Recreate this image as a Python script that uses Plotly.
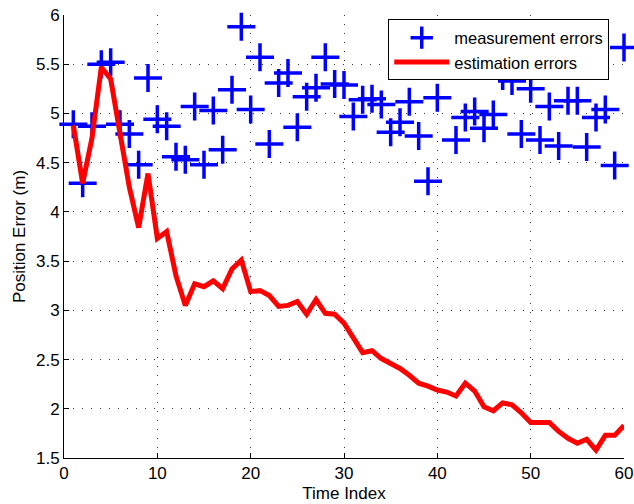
import plotly.graph_objects as go

# time index 1..60
time_index = list(range(1, 61))

# measurement errors (blue crosses), read off the picture
# (index 41 sits behind the legend box, value guessed)
meas_err = [4.89, 4.29, 4.87, 5.50, 5.52, 4.89, 4.79, 4.48, 5.36, 4.94,
            4.87, 4.56, 4.53, 5.07, 4.48, 5.03, 4.63, 5.24, 5.88, 5.04,
            5.57, 4.69, 5.31, 5.41, 4.86, 5.17, 5.26, 5.57, 5.30, 5.29,
            4.97, 5.14, 5.15, 5.09, 4.81, 4.91, 5.12, 4.77, 4.31, 5.16,
            5.65, 4.73, 4.96, 5.02, 4.85, 4.99, 5.38, 5.33, 4.79, 5.25,
            4.73, 5.07, 4.67, 5.13, 5.13, 4.66, 4.96, 5.04, 4.47, 5.67]

# estimation errors (red line)
est_err = [4.88, 4.29, 4.75, 5.47, 5.35, 4.76, 4.25, 3.84, 4.39, 3.73,
           3.80, 3.35, 3.05, 3.27, 3.24, 3.30, 3.22, 3.42, 3.51, 3.19,
           3.20, 3.15, 3.04, 3.05, 3.09, 2.96, 3.11, 2.97, 2.96, 2.87,
           2.73, 2.57, 2.59, 2.51, 2.46, 2.41, 2.34, 2.26, 2.23, 2.19,
           2.17, 2.13, 2.26, 2.18, 2.02, 1.98, 2.06, 2.04, 1.96, 1.86,
           1.86, 1.86, 1.77, 1.70, 1.65, 1.69, 1.58, 1.73, 1.73, 1.83]

fig = go.Figure()

fig.add_trace(go.Scatter(
    x=time_index, y=meas_err, mode='markers', name='measurement errors',
    marker=dict(symbol='cross-thin', size=20, color='#0000ff',
                line=dict(width=3.5, color='#0000ff')),
    cliponaxis=False))

fig.add_trace(go.Scatter(
    x=time_index, y=est_err, mode='lines', name='estimation errors',
    line=dict(color='#ff0000', width=5)))

# matlab-like axes: left/bottom lines, inward ticks, sparse dotted grid
axis_style = dict(showline=True, linecolor='black', linewidth=1,
                  ticks='inside', ticklen=5, tickcolor='black',
                  showgrid=True, gridcolor='#333333', griddash='1px,8px', gridwidth=1,
                  zeroline=False, mirror=False, ticklabeloverflow='allow',
                  automargin=False,
                  tickfont=dict(size=17, color='black'))

fig.update_xaxes(range=[0, 60], dtick=10, tick0=0,
                 title=dict(text='Time Index', font=dict(size=17, color='black'), standoff=4),
                 **axis_style)
fig.update_yaxes(range=[1.5, 6], dtick=0.5, tick0=1.5,
                 title=dict(text='Position Error (m)', font=dict(size=17, color='black'), standoff=6),
                 **axis_style)

fig.update_layout(
    width=634, height=504,
    margin=dict(l=64, r=10, t=15, b=46, autoexpand=False),
    plot_bgcolor='white', paper_bgcolor='white',
    font=dict(family='Liberation Sans, Arial, sans-serif', color='black'),
    showlegend=True,
    legend=dict(x=0.579, y=0.99, xanchor='left', yanchor='top',
                bgcolor='white', bordercolor='black', borderwidth=1,
                font=dict(size=16.5, color='black'), itemwidth=55,
                tracegroupgap=0))

# drop the default 8px body margin so the figure sits at the page corner
fig.write_html("out.html", config={'displayModeBar': False},
               post_script="document.body.style.margin='0px';")
